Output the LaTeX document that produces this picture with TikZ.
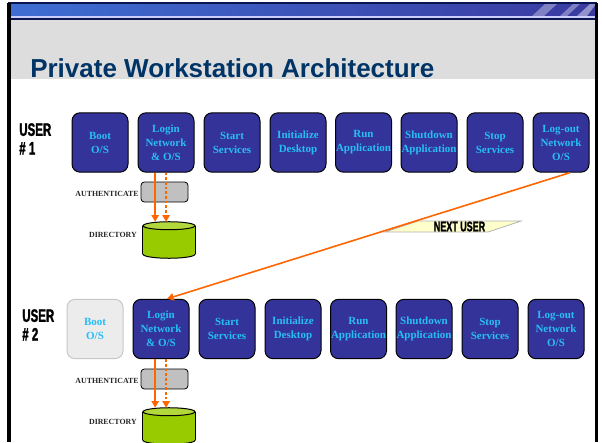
\documentclass[tikz,border=0pt]{standalone}
\usepackage{fontspec}
\setmainfont{Liberation Serif}
\newfontfamily\titlefont{Liberation Sans}
\newfontfamily\condfont[FakeStretch=0.64, FakeBold=1.6]{Liberation Sans Bold}
\usepackage{tikz}
\usetikzlibrary{arrows.meta, calc}

\definecolor{procblue}{RGB}{51,51,153}
\definecolor{proctext}{RGB}{40,190,245}
\definecolor{titleblue}{RGB}{0,51,102}
\definecolor{slidegrey}{RGB}{221,221,221}
\definecolor{flow}{RGB}{255,102,0}
\definecolor{dirgreen}{RGB}{153,204,0}
\definecolor{dirtop}{RGB}{178,216,60}
\definecolor{authgrey}{RGB}{192,192,192}
\definecolor{fadegrey}{RGB}{236,236,236}
\definecolor{nextyellow}{RGB}{255,255,204}
\definecolor{bannerleft}{RGB}{62,110,210}
\definecolor{bannerright}{RGB}{58,58,160}
\definecolor{navy}{RGB}{10,20,80}

\tikzset{
  procbox/.style={draw=black, line width=0.75pt, fill=procblue, rounded corners=6pt,
    minimum width=42pt, minimum height=44.5pt, inner sep=0pt, align=center,
    text=proctext, font=\fontsize{8.25}{10.5}\selectfont\bfseries},
  fadebox/.style={procbox, draw=black!22, fill=fadegrey},
  authbox/.style={draw=black, line width=0.6pt, fill=authgrey, rounded corners=2.5pt,
    minimum width=35.25pt, minimum height=15pt, inner sep=0pt},
  dirstore/.style={minimum width=39pt, minimum height=27pt, inner sep=0pt},
  dirline/.style={draw=black, line width=0.75pt},
  smalllabel/.style={font=\fontsize{5.9}{7}\selectfont\bfseries, text=black!85, inner sep=0pt},
  userlabel/.style={font=\condfont\fontsize{13.5}{14}\selectfont, align=left, inner sep=0pt},
  flowline/.style={draw=flow, line width=1.5pt, -{Triangle[width=5.5pt,length=5pt]}},
}

\begin{document}
\begin{tikzpicture}[x=0.75pt,y=0.75pt,yscale=-1,xscale=1]
\useasboundingbox (0,0) rectangle (602,442);

%Shape: slide banner
\shade [left color=bannerleft, right color=bannerright] (9,4) rectangle (596,16);
\fill [white, opacity=0.35] (532,16) -- (545,4) -- (557,4) -- (544,16) -- cycle;
\fill [white, opacity=0.35] (560,16) -- (573,4) -- (580,4) -- (567,16) -- cycle;
\fill [white, opacity=0.45] (577,16) -- (590,4) -- (596,4) -- (587,16) -- cycle;
\draw [navy, line width=1.5] (8,3.5) -- (597,3.5);
\draw [white!80!blue, line width=1] (9,17) -- (596,17);
\draw [navy, line width=1.5] (9,19) -- (596,19);
%Shape: grey title area
\fill [slidegrey] (10,20) rectangle (595,79.5);
%Shape: slide frame
\draw [black, line width=2.5] (9,3) -- (9,442);
\draw [black, line width=2.5] (596.5,3) -- (596.5,442);

% Text Node
\node [anchor=base west, inner sep=0pt, text=titleblue,
  font=\titlefont\bfseries\fontsize{19.5}{23}\selectfont] (title) at (30,78)
  {Private Workstation Architecture};

% user 1
\node [userlabel, anchor=north west] (user1) at (19,123) {USER\\\# 1};
\node [procbox] (boot1) at (100,142.5) {Boot\\O/S};
\node [procbox] (login1) at (166,142.5) {Login\\Network\\\& O/S};
\node [procbox] (start1) at (232,142.5) {Start\\Services};
\node [procbox] (init1) at (298,142.5) {Initialize\\Desktop};
\node [procbox] (run1) at (363.5,142.5) {Run\\Application};
\node [procbox] (shut1) at (429,142.5) {Shutdown\\Application};
\node [procbox] (stop1) at (495,142.5) {Stop\\Services};
\node [procbox] (logout1) at (561,142.5) {Log-out\\Network\\O/S};

\node [authbox] (auth1) at (164.5,192) {};
\node [smalllabel, anchor=east] (authlbl1) at (139,194) {AUTHENTICATE};
\node [dirstore] (dir1) at (169,240) {};
\node [smalllabel, anchor=east] (dirlbl1) at (137,235) {DIRECTORY};
%Shape: Can
\fill [dirgreen, dirline] ($(dir1.south)+(0,-4)$) ellipse [x radius=19.5pt, y radius=3pt];
\fill [dirgreen] ($(dir1.north west)+(0,4)$) rectangle ($(dir1.south east)+(0,-4)$);
\draw [dirline] ($(dir1.north west)+(0,4)$) -- ($(dir1.south west)+(0,-4)$);
\draw [dirline] ($(dir1.north east)+(0,4)$) -- ($(dir1.south east)+(0,-4)$);
\filldraw [fill=dirtop, dirline] ($(dir1.north)+(0,4)$) ellipse [x radius=19.5pt, y radius=3pt];

\draw [flowline] ([xshift=-7pt]auth1.center |- login1.south) -- ([xshift=-7pt]auth1.center |- dir1.north);
\draw [flowline, dash pattern=on 2pt off 1.5pt] ([xshift=1.2pt]auth1.center |- login1.south) -- ([xshift=1.2pt]auth1.center |- dir1.north);

% user 2
\node [userlabel, anchor=north west] (user2) at (22,309) {USER\\\# 2};
\node [fadebox] (boot2) at (95,329) {Boot\\O/S};
\node [procbox] (login2) at (161,329) {Login\\Network\\\& O/S};
\node [procbox] (start2) at (227,329) {Start\\Services};
\node [procbox] (init2) at (293,329) {Initialize\\Desktop};
\node [procbox] (run2) at (358.5,329) {Run\\Application};
\node [procbox] (shut2) at (424,329) {Shutdown\\Application};
\node [procbox] (stop2) at (490,329) {Stop\\Services};
\node [procbox] (logout2) at (556,329) {Log-out\\Network\\O/S};

\node [authbox] (auth2) at (164.5,379) {};
\node [smalllabel, anchor=east] (authlbl2) at (139,381) {AUTHENTICATE};
\node [dirstore] (dir2) at (169,426) {};
\node [smalllabel, anchor=east] (dirlbl2) at (137,422) {DIRECTORY};
%Shape: Can
\fill [dirgreen, dirline] ($(dir2.south)+(0,-4)$) ellipse [x radius=19.5pt, y radius=3pt];
\fill [dirgreen] ($(dir2.north west)+(0,4)$) rectangle ($(dir2.south east)+(0,-4)$);
\draw [dirline] ($(dir2.north west)+(0,4)$) -- ($(dir2.south west)+(0,-4)$);
\draw [dirline] ($(dir2.north east)+(0,4)$) -- ($(dir2.south east)+(0,-4)$);
\filldraw [fill=dirtop, dirline] ($(dir2.north)+(0,4)$) ellipse [x radius=19.5pt, y radius=3pt];

\draw [flowline] ([xshift=-7pt]auth2.center |- login2.south) -- ([xshift=-7pt]auth2.center |- dir2.north);
\draw [flowline, dash pattern=on 2pt off 1.5pt] ([xshift=1.2pt]auth2.center |- login2.south) -- ([xshift=1.2pt]auth2.center |- dir2.north);

% next user
\draw [black!30, fill=nextyellow, line width=0.6] (385,232) -- (488,232) -- (521,221) -- (418,221) -- cycle;
\node [font=\condfont\fontsize{10.5}{10.5}\selectfont, inner sep=0pt] (next) at (459.5,226.5) {NEXT USER};
\draw [flowline, line width=1.2pt] ([xshift=6.75pt]logout1.south) -- ([xshift=4.5pt]login2.north);

\end{tikzpicture}
\end{document}
